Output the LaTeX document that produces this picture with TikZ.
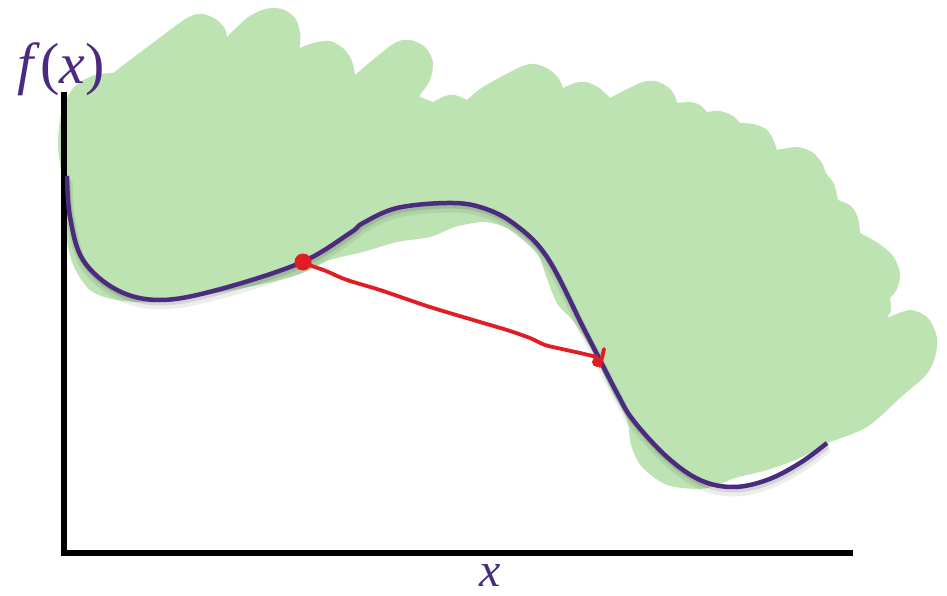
\documentclass[tikz,border=0pt]{standalone}
\usepackage{fontspec}
\setmainfont{Liberation Serif}
\definecolor{blobgreen}{RGB}{189,227,179}
\definecolor{curvepurple}{RGB}{75,43,128}
\definecolor{pointred}{RGB}{226,28,36}
\tikzset{
  axisline/.style={line width=5.5pt, black},
  curveline/.style={line width=4.5pt, curvepurple},
  shadowline/.style={line width=9pt, black, opacity=0.07},
  redline/.style={line width=3.8pt, pointred, line cap=round, line join=round},
  lbl/.style={text=curvepurple, inner sep=0pt},
}
\begin{document}
\begin{tikzpicture}[x=1pt,y=-1pt]
\useasboundingbox (0,0) rectangle (947,596);
% green blob
\fill[blobgreen]
  plot[smooth] coordinates {(62,175) (58,145) (62,110) (75,86) (95,75) (113,73)}
  -- plot[smooth] coordinates {(113,73) (150,45) (187,18) (203,14) (217,20) (225,29) (227,37)}
  -- plot[smooth] coordinates {(227,37) (247,18) (265,9) (282,9) (295,18) (300,32) (300,48)}
  -- plot[smooth] coordinates {(300,48) (313,43) (330,41) (344,49) (352,61) (355,75)}
  -- plot[smooth] coordinates {(355,75) (393,44) (410,40) (425,47) (433,62) (430,80) (420,95)}
  -- plot[smooth] coordinates {(420,97) (433,102)}
  -- plot[smooth] coordinates {(433,102) (445,96) (455,95) (467,100)}
  -- plot[smooth] coordinates {(467,100) (483,87) (520,67) (535,64) (550,70) (559,79) (563,88)}
  -- plot[smooth] coordinates {(563,88) (575,83) (586,82) (598,87) (606,94) (610,98)}
  -- plot[smooth] coordinates {(610,98) (640,83) (655,81) (668,87) (675,96) (677,103)}
  -- plot[smooth] coordinates {(677,103) (690,102) (700,105) (707,112)}
  -- plot[smooth] coordinates {(707,112) (720,111) (733,116) (740,123)}
  -- plot[smooth] coordinates {(740,123) (753,124) (766,129) (773,139) (777,150)}
  -- plot[smooth] coordinates {(777,150) (797,147) (812,152) (822,163) (826,173) (834,184) (838,200)}
  -- plot[smooth] coordinates {(838,200) (851,206) (858,218) (860,233)}
  -- plot[smooth] coordinates {(860,233) (878,243) (893,256) (900,273) (897,289) (890,298)}
  -- plot[smooth] coordinates {(890,298) (891,310) (887,318)}
  -- plot[smooth] coordinates {(887,318) (910,310) (928,318) (937,338) (935,357) (926,375) (900,398) (867,427) (827,443)}
  -- plot[smooth] coordinates {(827,443) (800,458) (767,470) (735,478) (720,484) (700,489) (667,485) (642,467) (631,445) (627,420) (612,392) (600,367) (590,347) (573,321) (558,305) (550,287) (543,267) (537,253) (520,237) (505,227) (483,222) (455,227) (430,237) (397,242) (363,252) (330,260) (303,273) (267,283) (217,293) (160,302) (117,300) (90,290) (72,262) (64,220) (62,175)}
  -- cycle;
% shadow of curve
\draw[shadowline] plot[smooth, tension=0.6] coordinates {(68,181) (71,221) (84,265) (118,295) (160,305) (218,295) (301,268) (351,238) (364,228) (398,213) (448,208) (481,212) (514,228) (548,262) (584,332) (601,365) (618,398) (634,425) (668,462) (701,485) (734,492) (768,485) (801,468) (828,448)};
\draw[shadowline, line width=5pt, opacity=0.1] plot[smooth, tension=0.6] coordinates {(68,179) (71,219) (84,263) (118,293) (160,303) (218,293) (301,266) (351,236) (364,226) (398,211) (448,206) (481,210) (514,226) (548,260) (584,330) (601,363) (618,396) (634,423) (668,460) (701,483) (734,490) (768,483) (801,466) (828,446)};
% axes
\coordinate (ytop) at (64,92);
\coordinate (origin) at (64,553);
\coordinate (xend) at (853,553);
\draw[axisline] (ytop) -- (origin) -- (xend);
% purple curve
\draw[curveline] plot[smooth, tension=0.6] coordinates {(67,176) (70,217) (83,260) (117,290) (160,300) (217,290) (300,263) (350,233) (363,223) (397,208) (447,203) (480,207) (513,223) (547,257) (583,327) (600,360) (617,393) (633,420) (667,457) (700,480) (733,487) (767,480) (800,463) (827,443)};
% labels
\node[lbl, anchor=base, font=\fontsize{58}{58}\selectfont] (fx) at (61,84) {\textit{f}(\textit{x})};
\node[lbl, anchor=base, font=\fontsize{48}{48}\selectfont\itshape] (xl) at (490,586) {x};
% red points and connector
\node[circle, fill=pointred, inner sep=0pt, minimum size=17pt] (p1) at (303,262) {};
\node[circle, fill=pointred, inner sep=0pt, minimum size=10pt] (p2) at (597,362) {};
\draw[redline] (600,366) -- (604,349);
\draw[redline] plot[smooth] coordinates {(p1) (312,266) (326,271) (347,280) (380,290) (430,307) (480,322) (507,330) (530,338) (545,345) (562,349) (580,353) (597,357)};
\end{tikzpicture}
\end{document}
